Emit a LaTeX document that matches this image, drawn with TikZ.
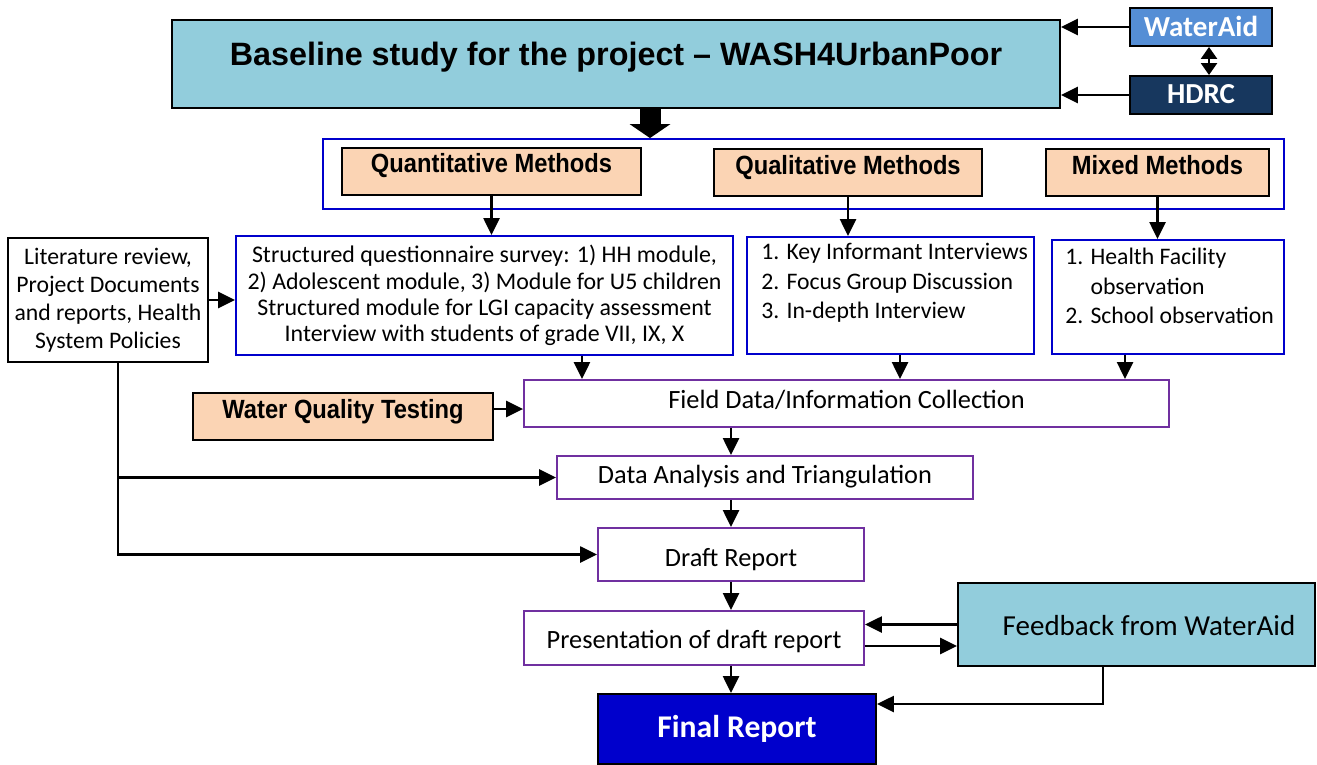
\documentclass[tikz,border=0pt]{standalone}
\usepackage{fontspec}
\setmainfont{Carlito}
\newfontfamily\arialfont{Liberation Sans}
\newfontfamily\arialnarrow{Liberation Sans}[FakeStretch=0.9]
\usetikzlibrary{arrows.meta}

\definecolor{titleblue}{HTML}{92CDDC}
\definecolor{waterblue}{HTML}{558ED5}
\definecolor{hdrcblue}{HTML}{17375E}
\definecolor{peach}{HTML}{FBD4B4}
\definecolor{frameblue}{HTML}{0000CC}
\definecolor{framepurple}{HTML}{7030A0}

\tikzset{
  box/.style={draw, line width=1.1pt, inner sep=0pt},
  methodbox/.style={box, fill=peach, font=\arialnarrow\bfseries\fontsize{15}{18}\selectfont,
    text height=0.48cm, text depth=0.46cm},
  bluebox/.style={box, draw=frameblue},
  stepbox/.style={box, draw=framepurple, font=\fontsize{15}{18}\selectfont},
  listtext/.style={inner sep=0pt, font=\fontsize{13.5}{16.7}\selectfont},
  arr/.style={line width=1.4pt, -{Triangle[length=0.34cm, width=0.32cm]}},
}

\begin{document}
\begin{tikzpicture}[x=0.02cm, y=-0.02cm]
    \useasboundingbox (0,0) rectangle (1317,764);
    % Top:
    \node[box, fill=titleblue, minimum width=17.76cm, text height=0.9cm, text depth=0.86cm,
      font=\arialfont\bfseries\fontsize{18.4}{22}\selectfont] (title) at (616,64)
      {Baseline study for the project – WASH4UrbanPoor};
    \node[box, fill=waterblue, text=white, minimum width=2.84cm, text height=0.58cm, text depth=0.18cm,
      font=\bfseries\fontsize{16.5}{20}\selectfont] (wateraid) at (1201,27) {WaterAid};
    \node[box, fill=hdrcblue, text=white, minimum width=2.84cm, text height=0.56cm, text depth=0.2cm,
      font=\bfseries\fontsize{16.5}{20}\selectfont] (hdrc) at (1201,95) {HDRC};
    % Methods:
    \node[bluebox, minimum width=19.22cm, minimum height=1.4cm] (methods) at (803.5,174) {};
    \node[methodbox, minimum width=5.98cm] (quant) at (491.5,171.5) {Quantitative Methods};
    \node[methodbox, minimum width=5.36cm, text height=0.5cm, text depth=0.44cm] (qualm) at (848,172.5) {Qualitative Methods};
    \node[methodbox, minimum width=4.46cm, text height=0.5cm, text depth=0.44cm] (mixedm) at (1157.5,172.5) {Mixed Methods};
    % Tools:
    \node[box, minimum width=4cm, minimum height=2.48cm, align=center,
      font=\fontsize{13.5}{16}\selectfont] (lit) at (108,300)
      {Literature review,\\ Project Documents\\ and reports, Health\\ System Policies};
    \node[bluebox, minimum width=9.94cm, minimum height=2.38cm, align=center,
      font=\fontsize{13.6}{15}\selectfont] (survey) at (484.5,295.5)
      {Structured questionnaire survey: 1) HH module,\\ 2) Adolescent module, 3) Module for U5 children\\
       Structured module for LGI capacity assessment\\ Interview with students of grade VII, IX, X};
    \node[bluebox, minimum width=5.74cm, minimum height=2.34cm] (qual) at (890.5,295.5) {};
    \node[listtext, anchor=north west] (qualtext) at ([xshift=0.3cm, yshift=-0.06cm]qual.north west)
      {\begin{tabular}{@{}l@{}}1. Key Informant Interviews\\ 2. Focus Group Discussion\\ 3. In-depth Interview\end{tabular}};
    \node[bluebox, minimum width=4.64cm, minimum height=2.28cm] (mixed) at (1168,297) {};
    \node[listtext, anchor=north west] (mixedtext) at ([xshift=0.28cm, yshift=-0.1cm]mixed.north west)
      {\begin{tabular}{@{}l@{ }l@{}}1.&Health Facility\\ &observation\\ 2.&School observation\end{tabular}};
    % Steps:
    \node[methodbox, minimum width=6cm, text height=0.5cm, text depth=0.44cm] (wqt) at (343,416.5) {Water Quality Testing};
    \node[stepbox, minimum width=12.9cm, text height=0.56cm, text depth=0.38cm] (field) at (846.5,403.5) {Field Data/Information Collection};
    \node[stepbox, minimum width=8.32cm, text height=0.54cm, text depth=0.32cm] (data) at (765,477.5) {Data Analysis and Triangulation};
    \node[stepbox, minimum width=5.32cm, text height=0.76cm, text depth=0.3cm] (draft) at (731,554.5) {Draft Report};
    \node[stepbox, minimum width=6.8cm, text height=0.74cm, text depth=0.34cm] (pres) at (694,638) {Presentation of draft report};
    \node[box, fill=titleblue, minimum width=7.14cm, text height=1.04cm, text depth=0.62cm,
      font=\fontsize{16.5}{20}\selectfont] (feedback) at (1136.5,624.5) {\hspace{0.5cm}Feedback from WaterAid};
    \node[box, fill=frameblue, text=white, minimum width=5.56cm, text height=0.86cm, text depth=0.54cm,
      font=\bfseries\fontsize{18}{22}\selectfont] (final) at (737,729) {Final Report};
    % Connectors:
    \draw[arr] (wateraid) -- (wateraid -| title.east);
    \draw[arr] (hdrc) -- (hdrc -| title.east);
    \draw[line width=1.4pt, {Triangle[length=0.24cm, width=0.32cm]}-{Triangle[length=0.24cm, width=0.32cm]}]
      ([xshift=0.16cm]wateraid.south) -- ([xshift=0.16cm]hdrc.north);
    \draw[line width=0.42cm, -{Triangle[length=0.28cm, width=0.82cm, line width=0pt]}]
      ([xshift=0.68cm]title.south) -- ([xshift=0.68cm]title.south |- methods.north);
    \draw[arr] (quant.south) -- (quant.south |- survey.north);
    \draw[arr] (qualm.south) -- (qualm.south |- qual.north);
    \draw[arr] (mixedm.south) -- (mixedm.south |- mixed.north);
    \draw[arr] (lit.east) -- (lit.east -| survey.west);
    \draw[arr] ([xshift=1.95cm]survey.south) -- ([xshift=1.95cm]survey.south |- field.north);
    \draw[arr] ([xshift=0.19cm]qual.south) -- ([xshift=0.19cm]qual.south |- field.north);
    \draw[arr] ([xshift=-0.86cm]mixed.south) -- ([xshift=-0.86cm]mixed.south |- field.north);
    \draw[arr] ([yshift=0.15cm]wqt.east) -- ([yshift=0.15cm]wqt.east -| field.west);
    \draw[arr] (field.south -| draft.north) -- (data.north -| draft.north);
    \draw[arr] (data.south -| draft.north) -- (draft.north);
    \draw[arr] ([xshift=0.2cm]lit.south) |- (data.west);
    \draw[arr] ([xshift=0.2cm]lit.south) |- (draft.west);
    \draw[arr] (draft.south) -- (pres.north -| draft.south);
    \draw[arr] (pres.south -| draft.south) -- (final.north -| draft.south);
    \draw[arr] (feedback.west) -- (feedback.west -| pres.east);
    \draw[arr] ([yshift=-0.16cm]pres.east) -- ([yshift=-0.16cm]pres.east -| feedback.west);
    \draw[arr] ([xshift=-0.67cm]feedback.south) |- ([yshift=0.5cm]final.east);
\end{tikzpicture}
\end{document}
